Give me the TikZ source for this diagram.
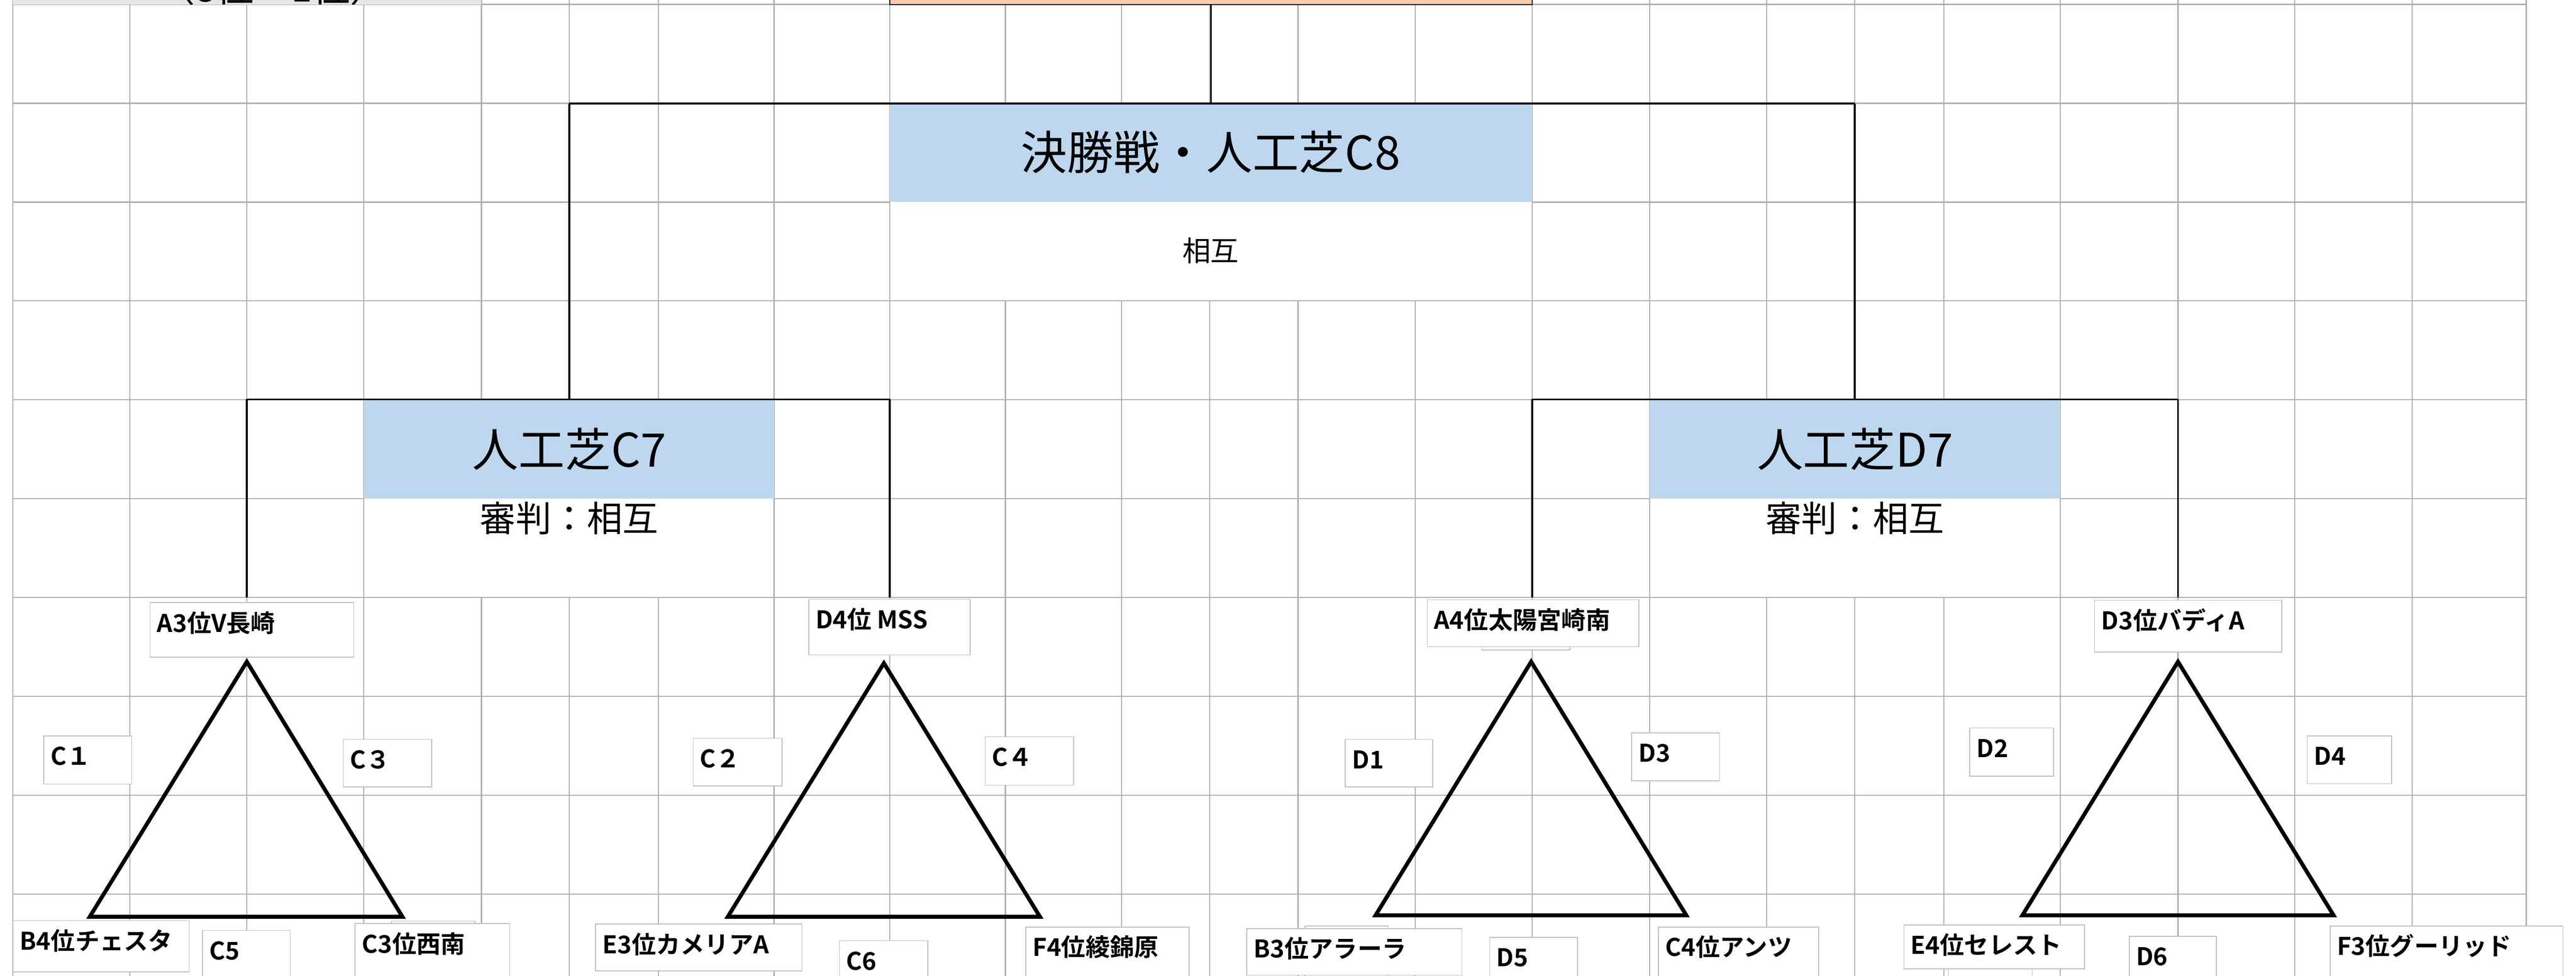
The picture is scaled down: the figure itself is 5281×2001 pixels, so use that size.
\documentclass[tikz,border=0pt]{standalone}
\usepackage{fontspec}
\setmainfont{Noto Sans CJK JP}[BoldFont={Noto Sans CJK JP Bold}]
\definecolor{gridc}{HTML}{B0B0B0}
\definecolor{boxc}{HTML}{BFBFBF}
\definecolor{cellblue}{HTML}{BDD7EE}
\definecolor{cellorange}{HTML}{F8CBAD}
\definecolor{cellgray}{HTML}{E7E6E6}
\tikzset{
 gridline/.style={draw=gridc, line width=0.7pt},
 bracket/.style={draw=black, line width=1.15pt},
 tri/.style={draw=black, line width=2.3pt, line join=miter},
 lbox/.style={draw=boxc, fill=white, line width=0.5pt, inner sep=0pt, outer sep=0pt, rectangle},
 ltext/.style={inner sep=0pt, outer sep=0pt, font=\bfseries\fontsize{14.2}{16}\selectfont},
 cell/.style={inner sep=0pt, outer sep=0pt, rectangle},
 bigtext/.style={inner sep=0pt, font=\fontsize{27}{30}\selectfont},
 reftext/.style={inner sep=0pt, font=\fontsize{20.8}{24}\selectfont},
 smalltext/.style={inner sep=0pt, font=\fontsize{16.5}{19}\selectfont},
}
% name, x1, y1, x2, y2, text
\newcommand\lbl[6]{%
 \node[lbox, anchor=north west, minimum width={(#4-#2)*0.1mm}, minimum height={(#5-#3)*0.1mm}] (#1) at (#2,#3) {};
 \node[ltext, anchor=base west] (#1t) at ([xshift=1.4mm,yshift=-6mm]#1.north west) {#6};}
\begin{document}
\begin{tikzpicture}[x=0.1mm,y=-0.1mm]
\useasboundingbox (0,0) rectangle (5281,2001);
\clip (0,0) rectangle (5281,2001);
\fill[white] (0,0) rectangle (5281,2001);
% grid
\foreach \gx in {26.5,266,506,746,987,1167,1350,1587,1824,2061,2299,2480,2661,2901,3141,3382,3622,3802,3985,4224,4465,4704,4945,5179}
  \draw[gridline] (\gx,0) -- (\gx,2001);
\foreach \k in {0,...,9}
  \draw[gridline] (26.5,{9+202.7*\k}) -- (5179,{9+202.7*\k});
% top cells
\fill[cellgray] (26.5,-1) rectangle (987,9);
\begin{scope}
 \clip (26.5,-1) rectangle (987,9);
 \node[inner sep=0pt, anchor=base west, font=\fontsize{22}{24}\selectfont] (hdr) at (322,4) {（8位ー1位）};
\end{scope}
\node[cell, draw=black, line width=0.6pt, fill=cellorange, minimum width=131.7mm, minimum height=3mm, anchor=south west] (head) at (1824,9) {};
% merged cells
\node[cell, fill=cellblue, minimum width=131.7mm, minimum height=20.2mm, anchor=north west] (c8) at (1824,212) {};
\fill[white] (1825.3,414) rectangle (3139.7,615.7);
\node[cell, fill=cellblue, minimum width=84.1mm, minimum height=20.3mm, anchor=north west] (c7) at (746,819) {};
\fill[white] (747.3,1022) rectangle (1585.7,1223.7);
\node[cell, fill=cellblue, minimum width=84.2mm, minimum height=20.3mm, anchor=north west] (d7) at (3382,819) {};
\fill[white] (3383.3,1022) rectangle (4222.7,1223.7);
% texts
\node[bigtext, anchor=base] (c8title) at (2482,348) {決勝戦・人工芝C8};
\node[smalltext, anchor=base] (c8ref) at (2482,536) {相互};
\node[bigtext, anchor=base] (c7title) at (1167,957) {人工芝C7};
\node[reftext, anchor=base] (c7ref) at (1167,1090) {審判：相互};
\node[bigtext, anchor=base] (d7title) at (3803,957) {人工芝D7};
\node[reftext, anchor=base] (d7ref) at (3803,1090) {審判：相互};
% bracket
\coordinate (jl) at (1167,212);
\coordinate (jr) at (3802,212);
\coordinate (c7j) at (1167,819);
\coordinate (d7j) at (3802,819);
\coordinate (c7l) at (506,819);
\coordinate (c7r) at (1824,819);
\coordinate (d7l) at (3141,819);
\coordinate (d7r) at (4465,819);
\coordinate (e1) at (506,1225);
\coordinate (e2) at (1824,1225);
\coordinate (e3) at (3141,1225);
\coordinate (e4) at (4465,1225);
\draw[bracket] (head.south) -- (c8.north);
\draw[bracket] (jl) -- (jr);
\draw[bracket] (jl) -- (c7j);
\draw[bracket] (jr) -- (d7j);
\draw[bracket] (c7l) -- (c7r);
\draw[bracket] (d7l) -- (d7r);
\draw[bracket] (c7l) -- (e1);
\draw[bracket] (c7r) -- (e2);
\draw[bracket] (d7l) -- (e3);
\draw[bracket] (d7r) -- (e4);
% triangles
\coordinate (t1a) at (506,1357); \coordinate (t1b) at (184,1880); \coordinate (t1c) at (825,1880);
\coordinate (t2a) at (1812,1360); \coordinate (t2b) at (1492,1880); \coordinate (t2c) at (2132,1880);
\coordinate (t3a) at (3139,1357); \coordinate (t3b) at (2820,1877); \coordinate (t3c) at (3457,1877);
\coordinate (t4a) at (4465,1357); \coordinate (t4b) at (4146,1877); \coordinate (t4c) at (4784,1877);
\draw[tri] (t1a) -- (t1b) -- (t1c) -- cycle;
\draw[tri] (t2a) -- (t2b) -- (t2c) -- cycle;
\draw[tri] (t3a) -- (t3b) -- (t3c) -- cycle;
\draw[tri] (t4a) -- (t4b) -- (t4c) -- cycle;
% hidden boxes behind
\lbl{bk1}{803}{1889}{974}{2010}{}
\lbl{bk2}{3038}{1240}{3218}{1333}{}
\lbl{bk3}{2675}{1899}{2846}{2010}{}
\lbl{bk4}{3994}{1900}{4166}{2010}{}
% team / match labels
\lbl{a3}{308}{1236}{725}{1348}{A3位V長崎}
\lbl{cc1}{90}{1509}{270}{1608}{C１}
\lbl{cc3}{704}{1516}{885}{1614}{C３}
\lbl{b4}{27}{1888}{388}{1993}{B4位チェスタ}
\lbl{cc5}{415}{1908}{595}{2010}{C5}
\lbl{c3}{728}{1894}{1045}{2010}{C3位西南}
\lbl{e3}{1221}{1895}{1644}{1991}{E3位カメリアA}
\lbl{d4}{1658}{1229}{1989}{1343}{D4位 MSS}
\lbl{cc2}{1421}{1514}{1603}{1612}{C２}
\lbl{cc4}{2020}{1511}{2201}{1610}{C４}
\lbl{cc6}{1721}{1929}{1902}{2010}{C6}
\lbl{f4}{2103}{1901}{2438}{2010}{F4位綾錦原}
\lbl{b3}{2556}{1904}{2997}{2000}{B3位アラーラ}
\lbl{a4}{2926}{1230}{3360}{1326}{A4位太陽宮崎南}
\lbl{dd1}{2758}{1516}{2937}{1614}{D1}
\lbl{dd3}{3345}{1503}{3525}{1601}{D3}
\lbl{dd5}{3054}{1922}{3234}{2010}{D5}
\lbl{c4}{3400}{1901}{3728}{2010}{C4位アンツ}
\lbl{d3}{4294}{1231}{4678}{1337}{D3位バディA}
\lbl{dd2}{4038}{1493}{4210}{1592}{D2}
\lbl{dd4}{4730}{1509}{4903}{1607}{D4}
\lbl{e4}{3903}{1897}{4273}{1987}{E4位セレスト}
\lbl{dd6}{4365}{1920}{4544}{2010}{D6}
\lbl{f3}{4777}{1899}{5254}{2010}{F3位グーリッド}
\end{tikzpicture}
\end{document}
